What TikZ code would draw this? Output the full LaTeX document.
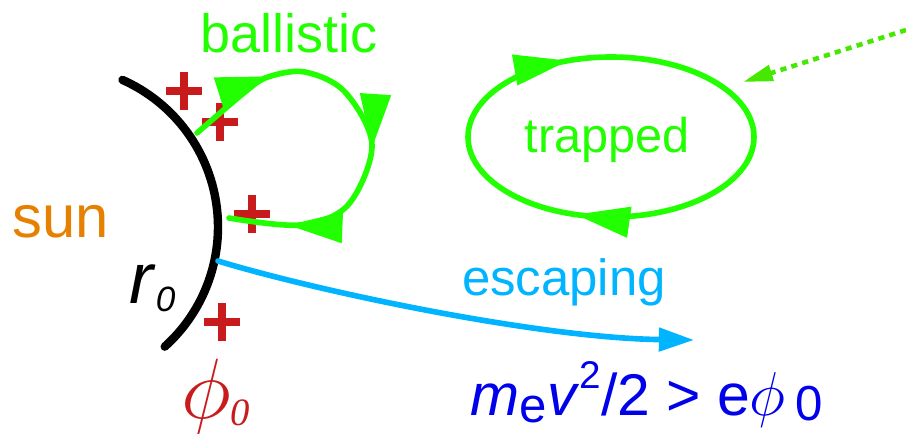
\documentclass[tikz,border=0pt]{standalone}
\usepackage{graphicx}
\usepackage{fontspec}
\setmainfont{Liberation Sans}
\newfontfamily\timesfont{Liberation Serif}
\usetikzlibrary{arrows.meta,decorations.markings}
\definecolor{sunorange}{RGB}{230,128,0}
\definecolor{chargered}{RGB}{200,28,28}
\definecolor{orbitgreen}{RGB}{34,255,0}
\definecolor{fieldgreen}{RGB}{68,232,0}
\definecolor{escapeblue}{RGB}{0,180,255}
\definecolor{energyblue}{RGB}{0,0,235}
\newcommand{\orbittip}{\arrow{Triangle[length=31pt,width=17pt]}}
\newcommand{\bigphi}[1]{{\fontsize{20}{24}\selectfont\scalebox{#1}{$\phi$}}}

\begin{document}
\begin{tikzpicture}[x=0.02cm, y=-0.02cm,
  limb/.style={black, line width=4.8pt, line cap=round},
  charge/.style={chargered, line width=4.3pt},
  orbit/.style={orbitgreen, line width=3.2pt, line cap=round, line join=round},
  txt/.style={inner sep=0pt, anchor=base}]
  \useasboundingbox (0,0) rectangle (906,433);
  % sun surface
  \draw[limb] (57,227) ++(-66:161) arc[start angle=-66, end angle=48, radius=161];
  \coordinate (bstart) at (197,133);
  \coordinate (bend) at (229,218);
  \coordinate (escstart) at (218,261);
  \coordinate (escend) at (694,340);
  \coordinate (orbitc) at (611,137);
  \coordinate (far) at (906,30);
  \coordinate (nearorbit) at (743,82);
  % charges
  \foreach \px/\py in {184/91, 220/122, 252/214, 222/322}
    \draw[charge] (\px-18,\py) -- (\px+18,\py) (\px,\py-19) -- (\px,\py+19);
  % ballistic loop
  \draw[orbit, postaction={decorate}, decoration={markings,
      mark=at position 0.22 with {\orbittip},
      mark=at position 0.56 with {\orbittip},
      mark=at position 0.86 with {\orbittip}}]
    plot[smooth, tension=0.55] coordinates {(bstart) (245,92) (268,77) (305,72) (345,92) (372,145) (348,205) (300,225) (bend)};
  % trapped orbit
  \draw[orbit, postaction={decorate}, decoration={markings,
      mark=at position 0.3 with {\orbittip},
      mark=at position 0.69 with {\orbittip}}]
    (orbitc) ellipse[x radius=143, y radius=80];
  \draw[fieldgreen, line width=2.6pt, dash pattern=on 3.5pt off 3pt,
    -{Triangle[length=17pt,width=9pt]}] (far) -- (nearorbit);
  % escaping
  \draw[escapeblue, line width=3.2pt, line cap=round,
    -{Triangle[length=20pt,width=13pt]}] (escstart) .. controls (320,292) and (540,338) .. (escend);
  % labels
  \node[txt, sunorange, font=\fontsize{34}{40}\selectfont] (sun) at (61,237) {sun};
  \node[txt, orbitgreen, font=\fontsize{30.7}{36}\selectfont] (ballistic) at (289,52) {ballistic};
  \node[txt, orbitgreen, font=\fontsize{27.7}{32}\selectfont] (trapped) at (607,152) {trapped};
  \node[txt, escapeblue, font=\fontsize{29}{34}\selectfont] (escaping) at (564,295) {escaping};
  \node[txt, anchor=base west, font=\fontsize{41}{44}\selectfont] (rzero) at (129,303)
    {\textit{r}\lower5pt\hbox{\fontsize{20}{20}\selectfont\itshape 0}};
  \node[txt, chargered, anchor=base west] (phizero) at (181,418)
    {\bigphi{2.35}\lower4pt\hbox{\timesfont\fontsize{22}{22}\selectfont\itshape 0}};
  \node[txt, energyblue, font=\fontsize{33.5}{38}\selectfont] (energy) at (647,415)
    {\textit{m}\lower4pt\hbox{\fontsize{28}{28}\selectfont e}\textit{v}\raise15pt\hbox{\fontsize{22}{22}\selectfont 2}/2 {>} e\bigphi{1.7}\,\lower3pt\hbox{\fontsize{28}{28}\selectfont 0}};
\end{tikzpicture}
\end{document}
